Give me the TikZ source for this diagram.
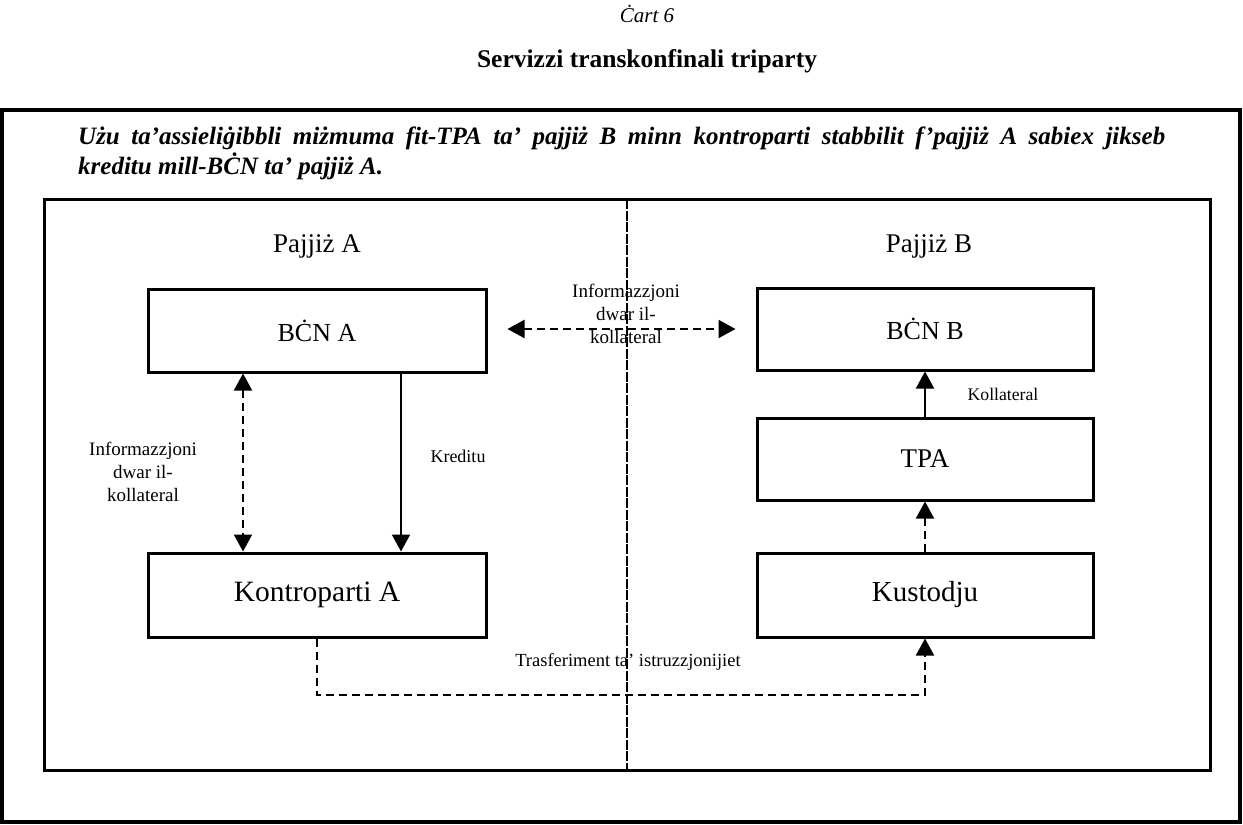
\documentclass[tikz,border=0pt]{standalone}
\usepackage{fontspec}
\setmainfont{Liberation Serif}
\usetikzlibrary{arrows.meta}
\tikzset{
  box/.style={draw, line width=3pt, minimum width=335pt, minimum height=80pt, inner sep=0pt, font=\fontsize{26}{30}\selectfont},
  conn/.style={line width=2pt, -{Triangle[length=17pt,width=18pt]}},
  conn2/.style={line width=2pt, {Triangle[length=17pt,width=18pt]}-{Triangle[length=17pt,width=18pt]}},
  dsh/.style={dash pattern=on 8pt off 5pt},
  lbl/.style={font=\fontsize{19}{23}\selectfont, align=center, inner sep=0pt},
  slbl/.style={font=\fontsize{17.7}{21}\selectfont, inner sep=0pt},
  frame/.style={draw, line width=3.5pt},
}
\begin{document}
\begin{tikzpicture}[x=1pt,y=-1pt]
\useasboundingbox (0,0) rectangle (1243,825);
% heading
\node[anchor=base, inner sep=0pt, font=\fontsize{21}{24}\selectfont\itshape] (cart) at (647,22) {Ċart 6};
\node[anchor=base, inner sep=0pt, font=\fontsize{25.5}{28}\selectfont\bfseries] (title) at (647,67) {Servizzi transkonfinali triparty};
% frames
\draw[frame] (2,110) rectangle (1240,822);
\node[anchor=base west, inner sep=0pt, font=\fontsize{25}{28}\selectfont\bfseries\itshape] (intro1) at (78,144) {\makebox[1087pt][s]{Użu ta’assieliġibbli miżmuma fit-TPA ta’ pajjiż B minn kontroparti stabbilit f’pajjiż A sabiex jikseb}};
\node[anchor=base west, inner sep=0pt, font=\fontsize{25}{28}\selectfont\bfseries\itshape] (intro2) at (78,174) {kreditu mill-BĊN ta’ pajjiż A.};
\draw[line width=3pt] (44,199) rectangle (1210,770);
\draw[line width=1.5pt, dash pattern=on 10pt off 1.5pt] (627,199) -- (627,770);
% country labels
\node[anchor=base, inner sep=0pt, font=\fontsize{27}{30}\selectfont] (pa) at (317,252) {Pajjiż A};
\node[anchor=base, inner sep=0pt, font=\fontsize{27}{30}\selectfont] (pb) at (929,252) {Pajjiż B};
% boxes
\node[box, minimum width=338pt, minimum height=83pt] (bcna) at (317,330.5) {BĊN A};
\node[box, minimum width=338pt, minimum height=84pt, font=\fontsize{29.5}{32}\selectfont] (konta) at (317,595) {Kontroparti A};
\node[box, minimum width=336pt, minimum height=82pt] (bcnb) at (925,329) {BĊN B};
\node[box, minimum width=336pt, minimum height=82pt, font=\fontsize{27}{30}\selectfont] (tpa) at (925,459) {TPA};
\node[box, minimum width=336pt, minimum height=84pt, font=\fontsize{29}{32}\selectfont] (kust) at (925,595) {Kustodju};
% connectors
\draw[conn2, dsh] ([xshift=-74pt]bcna.south) -- ([xshift=-74pt]konta.north);
\draw[conn] ([xshift=84pt]bcna.south) -- ([xshift=84pt]konta.north);
\draw[conn2, dsh] ([xshift=20pt]bcna.east |- 0,329) -- ([xshift=-20pt]bcnb.west |- 0,329);
\draw[conn] (tpa.north) -- (bcnb.south);
\draw[conn, dsh] (kust.north) -- (tpa.south);
\draw[conn, dsh] (konta.south) -- ++(0,56) -| (kust.south);
% labels
\node[lbl] (infoL) at (143,472) {Informazzjoni\\dwar il-\\kollateral};
\node[lbl] (infoM) at (626,314) {Informazzjoni\\dwar il-\\kollateral};
\node[lbl, font=\fontsize{18}{23}\selectfont] (kred) at (458,456) {Kreditu};
\node[slbl] (koll) at (1003,394) {Kollateral};
\node[slbl, font=\fontsize{18.5}{21}\selectfont] (trasf) at (628,662) {Trasferiment ta’ istruzzjonijiet};
\end{tikzpicture}
\end{document}
